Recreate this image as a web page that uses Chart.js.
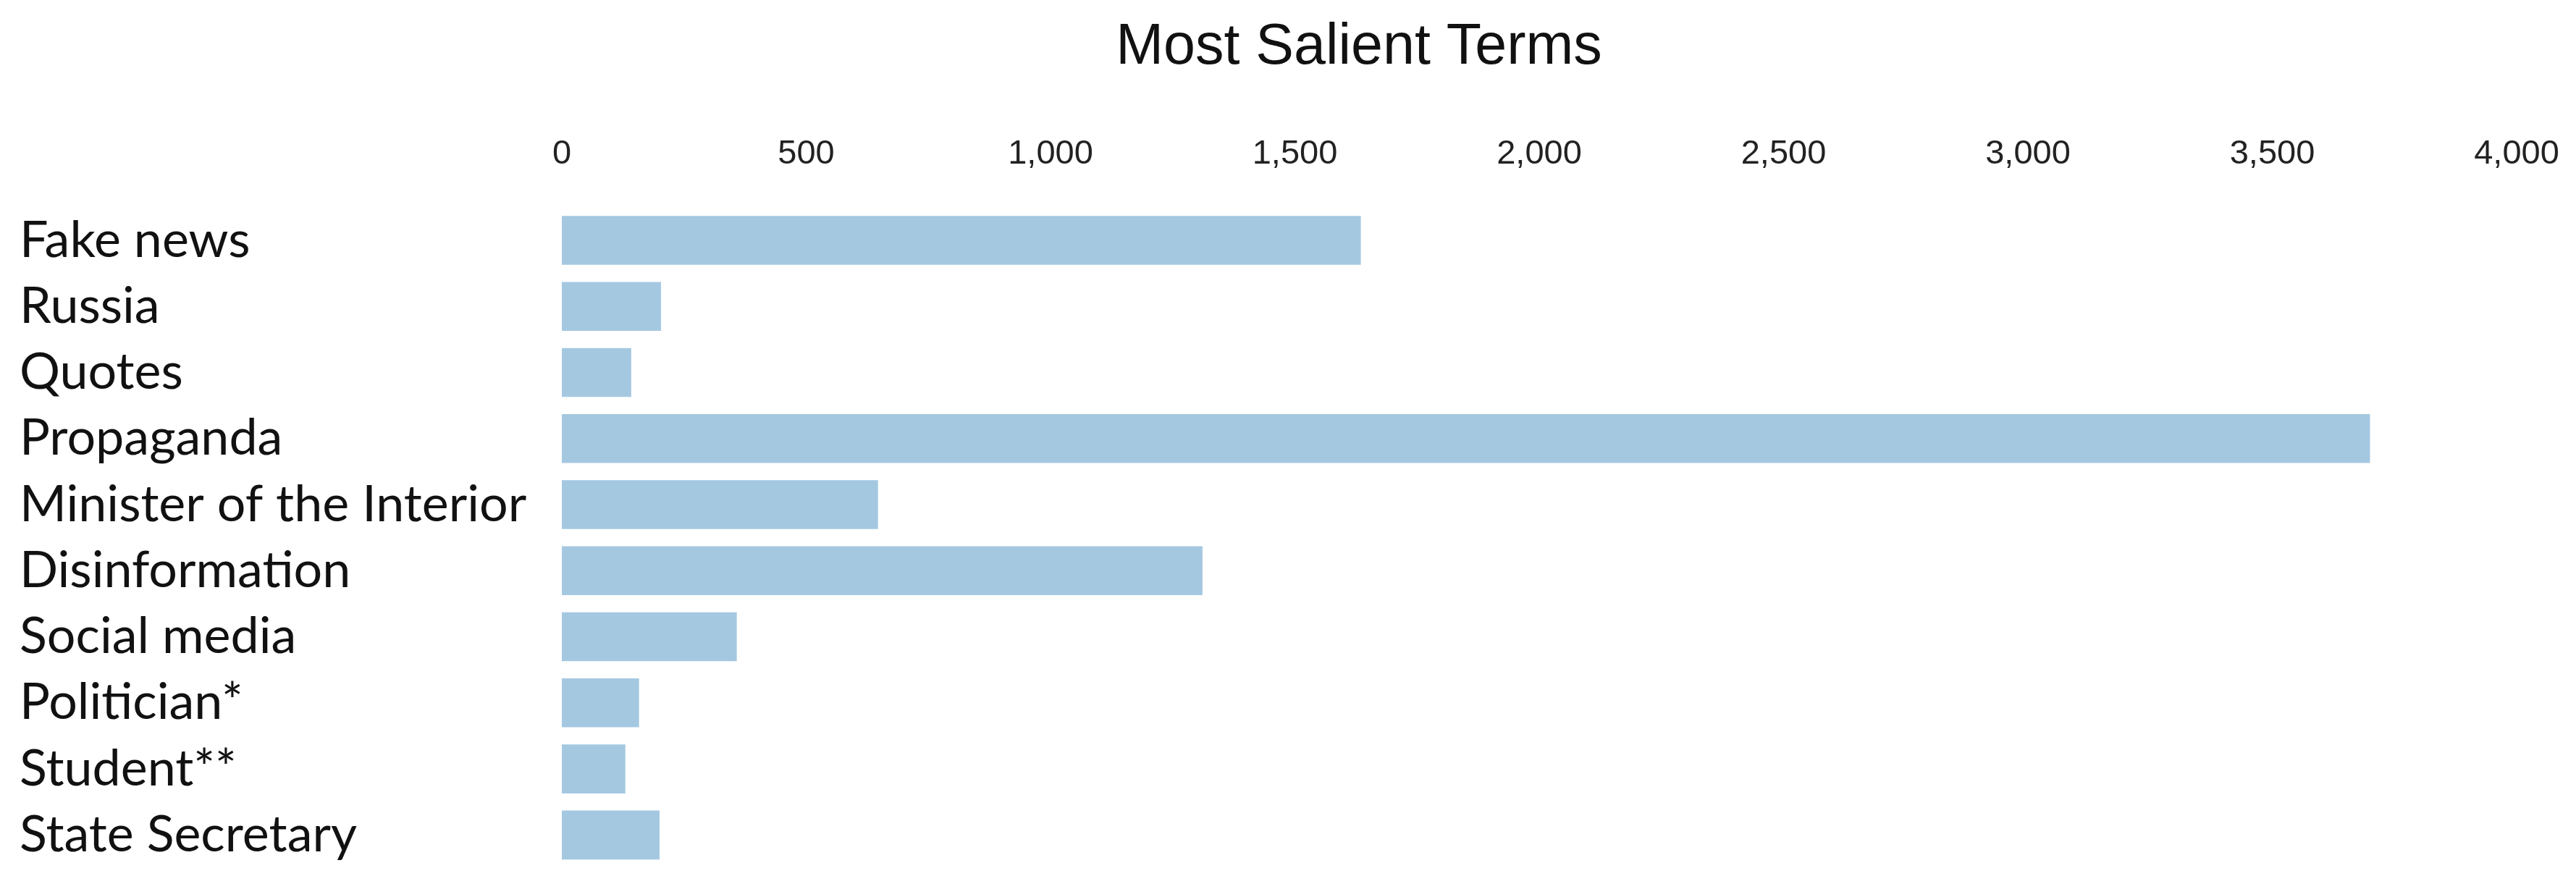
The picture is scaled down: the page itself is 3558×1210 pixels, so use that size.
<!DOCTYPE html>
<html>
<head>
<meta charset="utf-8">
<script src="https://cdn.jsdelivr.net/npm/chart.js@4"></script>
<style>
  html, body { margin: 0; padding: 0; background: #fff; overflow: hidden; }
  #wrap { width: 3558px; height: 1210px; }
</style>
</head>
<body>
<div id="wrap"><canvas id="chart" width="3558" height="1210"></canvas></div>
<script>
// data
const terms = [
  'Fake news', 'Russia', 'Quotes', 'Propaganda', 'Minister of the Interior',
  'Disinformation', 'Social media', 'Politician*', 'Student**', 'State Secretary'
];
const counts = [1635, 203, 142, 3700, 647, 1311, 358, 158, 130, 200];
const tickValues = [0, 500, 1000, 1500, 2000, 2500, 3000, 3500, 4000];
const chartTitle = 'Most Salient Terms';

// title sits a bit left of the plot centre in the original, so draw it by hand
const titlePlugin = {
  id: 'offsetTitle',
  afterDraw(chart) {
    const c = chart.ctx;
    c.save();
    c.fillStyle = '#111';
    c.font = '79px "Liberation Sans", Arial, sans-serif';
    c.textAlign = 'center';
    c.textBaseline = 'middle';
    c.fillText(chartTitle, 1877, 66);
    c.restore();
  }
};

const ctx = document.getElementById('chart').getContext('2d');
new Chart(ctx, {
  type: 'bar',
  data: {
    labels: terms,
    datasets: [{
      data: counts,
      backgroundColor: '#a5c8e1',
      borderWidth: 0,
      barPercentage: 0.74,
      categoryPercentage: 1
    }]
  },
  options: {
    indexAxis: 'y',
    responsive: false,
    animation: false,
    layout: { padding: { left: 27, right: 82, top: 140, bottom: 11 } },
    plugins: {
      legend: { display: false },
      tooltip: { enabled: false },
      title: { display: false }
    },
    scales: {
      x: {
        position: 'top',
        min: 0,
        max: 4000,
        grid: { display: false, drawTicks: false, tickLength: 0 },
        border: { display: false },
        afterBuildTicks: (scale) => {
          scale.ticks = tickValues.map(v => ({ value: v }));
        },
        afterFit: (scale) => {
          // tick padding is vertical here, don't let it widen the sides
          scale.paddingLeft = 0;
          scale.paddingRight = 0;
        },
        ticks: {
          padding: 45,
          color: '#222',
          font: { family: '"Liberation Sans", Arial, sans-serif', size: 47 },
          callback: (v) => v.toLocaleString('en-US')
        }
      },
      y: {
        grid: { display: false, drawTicks: false, tickLength: 0 },
        border: { display: false },
        afterFit: (scale) => {
          scale.width = 749;
          scale.paddingTop = 0;
          scale.paddingBottom = 0;
        },
        ticks: {
          autoSkip: false,
          crossAlign: 'far',
          padding: 0,
          color: '#111',
          font: { family: 'Lato, "Open Sans", sans-serif', size: 70 }
        }
      }
    }
  },
  plugins: [titlePlugin]
});
</script>
</body>
</html>
